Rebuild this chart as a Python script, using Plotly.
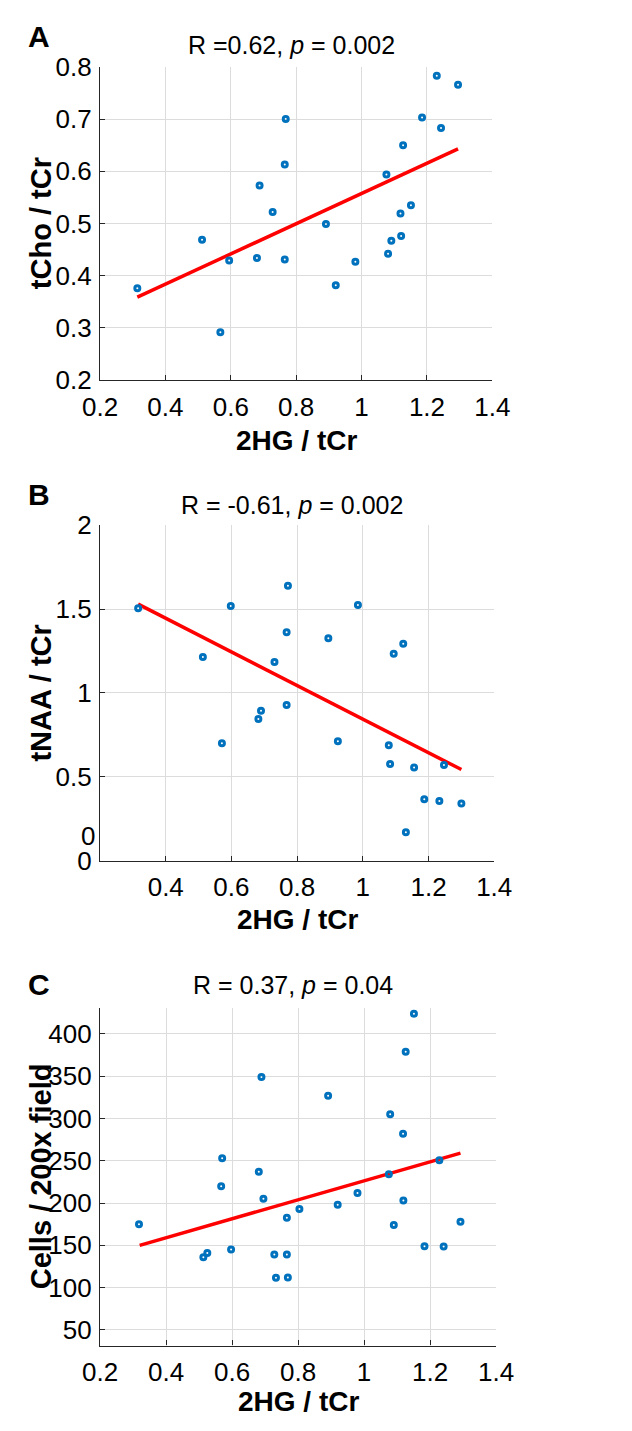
import plotly.graph_objects as go

# ---------------- data ----------------
# Panel A: tCho/tCr vs 2HG/tCr
a_x = [1.230, 1.295, 0.768, 1.185, 1.243, 1.127, 0.765, 1.076, 0.688, 0.728, 0.512, 0.891,
       1.151, 1.119, 1.121, 1.091, 1.081, 0.595, 0.680, 0.765, 0.981, 0.921, 0.314, 0.568]
a_y = [0.783, 0.766, 0.700, 0.703, 0.683, 0.650, 0.613, 0.594, 0.573, 0.522, 0.469, 0.499,
       0.535, 0.519, 0.476, 0.467, 0.442, 0.429, 0.434, 0.431, 0.427, 0.382, 0.376, 0.292]
a_fit_x = [0.314, 1.295]
a_fit_y = [0.359, 0.643]

# Panel B: tNAA/tCr vs 2HG/tCr
b_x = [0.316, 0.598, 0.772, 0.768, 0.985, 0.895, 0.513, 0.731, 1.123, 1.094, 0.768, 0.690,
       0.682, 0.571, 0.924, 1.079, 1.083, 1.156, 1.247, 1.187, 1.233, 1.300, 1.131]
b_y = [1.504, 1.518, 1.638, 1.362, 1.524, 1.326, 1.215, 1.184, 1.293, 1.234, 0.929, 0.894,
       0.845, 0.700, 0.713, 0.688, 0.577, 0.556, 0.571, 0.367, 0.357, 0.342, 0.171]
b_fit_x = [0.316, 1.300]
b_fit_y = [1.529, 0.544]

# Panel C: Cells / 200x field vs 2HG/tCr
c_x = [1.151, 1.126, 0.689, 0.891, 1.079, 1.118, 0.570, 1.228, 0.681, 1.075, 0.567, 0.695,
       1.119, 0.980, 0.920, 0.804, 0.766, 0.318, 1.090, 1.292, 1.183, 1.241, 0.597, 0.525,
       0.513, 0.728, 0.766, 0.733, 0.769]
c_y = [424, 379, 349, 327, 305, 282, 253, 250.5, 237, 234, 220, 205,
       203, 212, 198, 193, 182.5, 175, 174, 178, 149, 148.5, 145, 141,
       136, 139, 139, 111.5, 112]
c_fit_x = [0.320, 1.292]
c_fit_y = [150, 259]

x_ticks = [0.2, 0.4, 0.6, 0.8, 1.0, 1.2, 1.4]
x_ticktext = ["0.2", "0.4", "0.6", "0.8", "1", "1.2", "1.4"]
x_ticktext_b = ["", "0.4", "0.6", "0.8", "1", "1.2", "1.4"]
a_yticks = [0.2, 0.3, 0.4, 0.5, 0.6, 0.7, 0.8]
a_yticktext = ["0.2", "0.3", "0.4", "0.5", "0.6", "0.7", "0.8"]
b_yticks = [0, 0.5, 1, 1.5, 2]
b_yticktext = ["0", "0.5", "1", "1.5", "2"]
c_yticks = [50, 100, 150, 200, 250, 300, 350, 400]
c_yticktext = ["50", "100", "150", "200", "250", "300", "350", "400"]

titles = ["R =0.62, <i>p</i> = 0.002", "R = -0.61, <i>p</i> = 0.002", "R = 0.37, <i>p</i> = 0.04"]
letters = ["A", "B", "C"]
ytitles = ["tCho / tCr", "tNAA / tCr", "Cells / 200x field"]
xtitle = "2HG / tCr"

# ---------------- layout helpers ----------------
W, H = 632, 1431
FONT = "Liberation Sans, Arial, sans-serif"
BLUE = "#0072BD"


def fx(p):
    return p / W


def fy(p):
    return 1 - p / H


panels = [
    dict(x=a_x, y=a_y, fx_=a_fit_x, fy_=a_fit_y, xpx=(87, 503), ypx=(53, 373),
         yr=[0.2, 0.8], yt=a_yticks, ytt=a_yticktext, xtt=x_ticktext,
         title_y=31, letter_y=22, xtitle_y=435),
    dict(x=b_x, y=b_y, fx_=b_fit_x, fy_=b_fit_y, xpx=(87, 505), ypx=(521, 864),
         yr=[0, 2], yt=b_yticks, ytt=b_yticktext, xtt=x_ticktext_b,
         title_y=501, letter_y=490, xtitle_y=924),
    dict(x=c_x, y=c_y, fx_=c_fit_x, fy_=c_fit_y, xpx=(87, 507), ypx=(1014, 1359),
         yr=[31.5, 431], yt=c_yticks, ytt=c_yticktext, xtt=x_ticktext,
         title_y=991, letter_y=990, xtitle_y=1416),
]

fig = go.Figure()
annotations = []

for i, p in enumerate(panels, start=1):
    sx = "" if i == 1 else str(i)
    xa, ya = "x" + sx, "y" + sx
    fig.add_trace(go.Scatter(
        x=p["fx_"], y=p["fy_"], mode="lines",
        line=dict(color="#FF0000", width=3.5),
        xaxis=xa, yaxis=ya, showlegend=False, hoverinfo="skip"))
    fig.add_trace(go.Scatter(
        x=p["x"], y=p["y"], mode="markers",
        marker=dict(symbol="circle-open", size=5, color=BLUE,
                    line=dict(color=BLUE, width=3)),
        xaxis=xa, yaxis=ya, showlegend=False))

    axis_common = dict(
        showgrid=True, gridcolor="#DCDCDC", gridwidth=1,
        showline=True, linecolor="#262626", linewidth=1.3,
        ticks="inside", ticklen=5, tickcolor="#262626", tickwidth=1,
        tickfont=dict(family=FONT, size=26, color="#000000"),
        zeroline=False, mirror=False, fixedrange=True,
    )
    fig.update_layout(**{
        ("xaxis" + sx): dict(axis_common,
                             domain=[fx(p["xpx"][0]), fx(p["xpx"][1])],
                             range=[0.2, 1.4], tickmode="array",
                             tickvals=x_ticks, ticktext=p["xtt"],
                             anchor=ya, ticklabelstandoff=3),
        ("yaxis" + sx): dict(axis_common,
                             domain=[fy(p["ypx"][1]), fy(p["ypx"][0])],
                             range=p["yr"], tickmode="array",
                             tickvals=p["yt"], ticktext=p["ytt"],
                             anchor=xa, ticklabelstandoff=2),
    })

    cx = (p["xpx"][0] + p["xpx"][1]) / 2
    cy = (p["ypx"][0] + p["ypx"][1]) / 2
    annotations.append(dict(text=titles[i - 1], x=fx(cx - 5), y=fy(p["title_y"]),
                            xref="paper", yref="paper", showarrow=False,
                            xanchor="center", yanchor="middle",
                            font=dict(family=FONT, size=25, color="#000000")))
    annotations.append(dict(text="<b>" + letters[i - 1] + "</b>", x=fx(8), y=fy(p["letter_y"]),
                            xref="paper", yref="paper", showarrow=False,
                            xanchor="left", yanchor="middle",
                            font=dict(family=FONT, size=30, color="#000000")))
    annotations.append(dict(text="<b>" + xtitle + "</b>", x=fx(cx), y=fy(p["xtitle_y"]),
                            xref="paper", yref="paper", showarrow=False,
                            xanchor="center", yanchor="middle",
                            font=dict(family=FONT, size=28, color="#000000")))
    annotations.append(dict(text="<b>" + ytitles[i - 1] + "</b>", x=fx(24), y=fy(cy),
                            xref="paper", yref="paper", showarrow=False,
                            xanchor="center", yanchor="middle", textangle=-90,
                            font=dict(family=FONT, size=29, color="#000000")))

# stray extra "0" label on panel B's y axis (as in the reference)
annotations.append(dict(text="0", x=fx(84), y=0.15, xref="paper", yref="y2",
                        showarrow=False, xanchor="right", yanchor="middle",
                        font=dict(family=FONT, size=26, color="#000000")))

fig.update_layout(
    width=W, height=H,
    margin=dict(l=0, r=0, t=0, b=0),
    paper_bgcolor="white", plot_bgcolor="white",
    annotations=annotations,
    font=dict(family=FONT, color="#000000"),
)

fig.write_html("out.html", config={"displayModeBar": False},
               post_script="document.body.style.margin='0';")
